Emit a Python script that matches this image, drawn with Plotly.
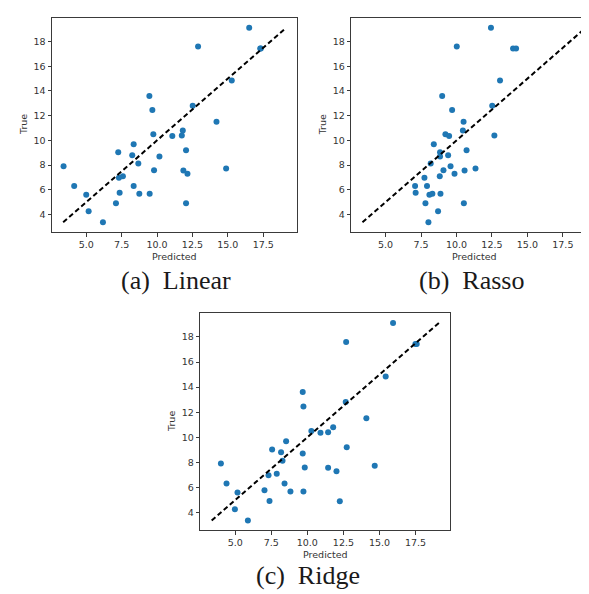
import plotly.graph_objects as go

# Shared ground-truth values (y axis in every panel)
y_true = [19.12, 17.60, 17.43, 17.43, 14.85, 13.60, 12.45, 12.81, 11.51, 10.80,
          10.49, 10.36, 10.40, 9.68, 9.20, 9.03, 8.80, 8.70, 8.13, 7.91,
          7.73, 7.59, 7.56, 7.30, 7.10, 6.98, 6.31, 6.31, 5.77, 5.60,
          5.68, 5.68, 4.91, 4.90, 4.27, 3.37]

pred_linear = [16.51, 12.90, 17.29, 17.33, 15.28, 9.46, 9.67, 12.52, 14.20, 11.82,
               9.74, 11.08, 11.75, 8.35, 12.05, 7.26, 8.25, 10.17, 8.68, 3.40,
               14.88, 9.79, 11.86, 12.15, 7.59, 7.31, 4.15, 8.35, 7.36, 5.00,
               8.75, 9.48, 7.10, 12.05, 5.17, 6.18]

pred_rasso = [12.43, 10.02, 13.99, 14.20, 13.07, 8.99, 9.69, 12.52, 10.50, 10.45,
              9.22, 9.48, 12.67, 8.40, 10.71, 8.84, 9.41, 8.84, 8.18, 9.58,
              11.34, 9.08, 10.57, 9.86, 8.82, 7.74, 7.08, 7.92, 7.12, 8.09,
              8.30, 8.87, 7.81, 10.52, 8.70, 8.02]

pred_ridge = [15.94, 12.69, 17.49, 17.58, 15.43, 9.68, 9.73, 12.66, 14.09, 11.79,
              10.28, 10.91, 11.44, 8.53, 12.73, 7.56, 8.18, 9.68, 8.28, 4.01,
              14.67, 9.82, 11.44, 12.02, 7.88, 7.31, 4.40, 8.42, 7.03, 5.16,
              8.83, 9.73, 7.38, 12.25, 4.98, 5.88]

captions = ["(a)\u00a0\u00a0Linear", "(b)\u00a0\u00a0Rasso", "(c)\u00a0\u00a0Ridge"]
x_ticks = [5.0, 7.5, 10.0, 12.5, 15.0, 17.5]
x_ticktext = ["5.0", "7.5", "10.0", "12.5", "15.0", "17.5"]
y_ticks = [4, 6, 8, 10, 12, 14, 16, 18]

W, H = 589, 594
lo, hi = min(y_true), max(y_true)
pad = (hi - lo) * 0.05
rng = [lo - pad, hi + pad]

# panel boxes in pixels: (left, right, top, bottom)
boxes = [(44, 289.3, 10, 224), (343.3, 589, 10, 224), (192.3, 442.3, 305, 522.3)]
preds = [pred_linear, pred_rasso, pred_ridge]
caption_pos = [(168, 272), (463, 272), (300, 567)]

fig = go.Figure()
layout = dict(width=W, height=H, margin=dict(l=0, r=0, t=0, b=0),
              paper_bgcolor="white", plot_bgcolor="white", showlegend=False)
annotations = []
axcol = "#3a3a3a"
tfont = dict(family="DejaVu Sans", size=9.5, color="#333")

for i, (box, pred) in enumerate(zip(boxes, preds)):
    n = "" if i == 0 else str(i + 1)
    l, r, t, b = box
    xa = dict(domain=[l / W, r / W], range=rng, anchor="y" + n,
              showline=True, mirror=True, linecolor=axcol, linewidth=1,
              ticks="outside", ticklen=3.5, tickwidth=1, tickcolor=axcol,
              showgrid=False, zeroline=False, tickvals=x_ticks, ticktext=x_ticktext,
              tickfont=tfont)
    ya = dict(domain=[1 - b / H, 1 - t / H], range=rng, anchor="x" + n,
              showline=True, mirror=True, linecolor=axcol, linewidth=1,
              ticks="outside", ticklen=3.5, tickwidth=1, tickcolor=axcol,
              showgrid=False, zeroline=False, tickvals=y_ticks, tickfont=tfont)
    layout["xaxis" + n] = xa
    layout["yaxis" + n] = ya
    fig.add_trace(go.Scatter(x=pred, y=y_true, mode="markers", xaxis="x" + n, yaxis="y" + n,
                             marker=dict(color="#1f77b4", size=6, line=dict(width=0))))
    fig.add_trace(go.Scatter(x=[lo, hi], y=[lo, hi], mode="lines", xaxis="x" + n, yaxis="y" + n,
                             line=dict(color="black", width=2, dash="5px,3px")))
    # axis titles
    annotations.append(dict(x=(l + r) / 2 / W, y=1 - (b + 24) / H, xref="paper", yref="paper",
                            text="Predicted", showarrow=False, font=tfont,
                            xanchor="center", yanchor="middle"))
    annotations.append(dict(x=(l - 29) / W, y=1 - (t + b) / 2 / H, xref="paper", yref="paper",
                            text="True", showarrow=False, font=tfont, textangle=-90,
                            xanchor="center", yanchor="middle"))
    cx, cy = caption_pos[i]
    annotations.append(dict(x=cx / W, y=1 - cy / H, xref="paper", yref="paper",
                            text=captions[i], showarrow=False,
                            font=dict(family="Liberation Serif", size=26, color="#1a1a1a"),
                            xanchor="center", yanchor="middle"))

layout["annotations"] = annotations
fig.update_layout(**layout)
fig.write_html("out.html")
